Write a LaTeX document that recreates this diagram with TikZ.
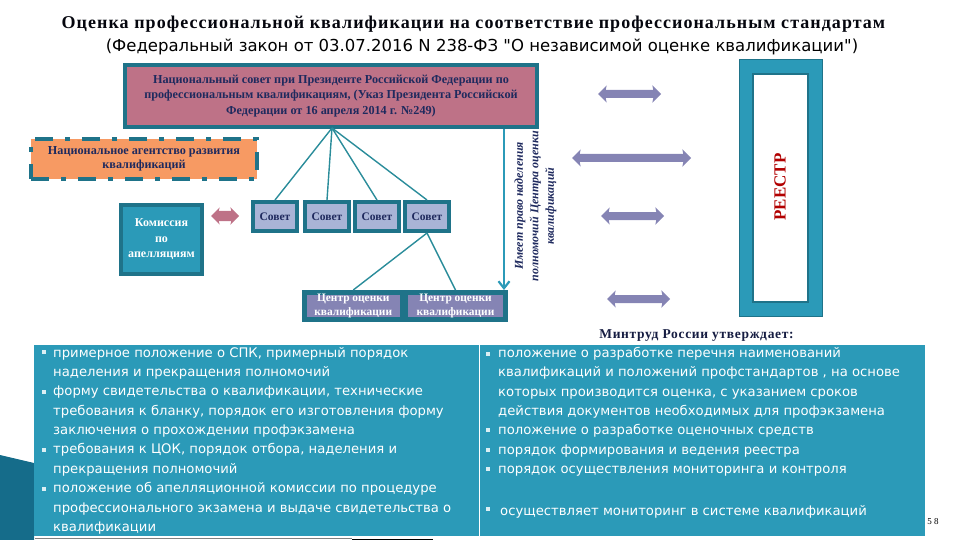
\documentclass[tikz,border=0pt]{standalone}
\usepackage{fontspec}
\setmainfont{Liberation Serif}
\newfontfamily\dv{DejaVu Sans}
\usetikzlibrary{shapes.arrows,arrows.meta}
\definecolor{tealD}{HTML}{1F7389}
\definecolor{tealM}{HTML}{2B9AB8}
\definecolor{tealC}{HTML}{156C8A}
\definecolor{rose}{HTML}{BE7287}
\definecolor{orangeB}{HTML}{F79A63}
\definecolor{lav}{HTML}{A9B4D6}
\definecolor{purp}{HTML}{8584B4}
\definecolor{navy}{HTML}{1F2A5E}
\definecolor{conn}{HTML}{2A8C9A}
\definecolor{pale}{HTML}{DCEFF4}
\tikzset{
 sovet/.style={draw=tealD,line width=4pt,fill=lav,minimum width=44pt,minimum height=29pt,inner sep=0pt,font=\bfseries\fontsize{11.5}{13}\selectfont,text=navy,anchor=north west},
 centre/.style={draw=tealD,line width=5pt,fill=purp,minimum height=27pt,inner sep=0pt,font=\bfseries\fontsize{11.4}{14}\selectfont,text=white,align=center,anchor=north west},
 dbl/.style={double arrow,double arrow head extend=4.7pt,double arrow head indent=1pt,inner xsep=0pt,inner ysep=3.8pt,fill=purp,draw=none},
 link/.style={draw=conn,line width=1.4pt},
 bodytxt/.style={anchor=north west,font=\dv\fontsize{13.2}{19.35}\selectfont,text=white,align=left,inner sep=0pt},
}
\begin{document}
\begin{tikzpicture}[x=1pt,y=-1pt]
\useasboundingbox (0,0) rectangle (960,540);
% corner chevron
\fill[tealC] (0,455) -- (34,463) -- (34,540) -- (0,540) -- cycle;
% title
\node[anchor=center,font=\bfseries\fontsize{18}{20}\selectfont\addfontfeature{LetterSpace=5.8},text=black!85!navy] (title) at (473.5,24) {Оценка профессиональной квалификации на соответствие профессиональным стандартам};
\node[anchor=center,font=\dv\fontsize{16.5}{19}\selectfont,text=black] (sub) at (482,47) {(Федеральный закон от 03.07.2016 N 238-ФЗ "О независимой оценке квалификации")};
% national council
\node[draw=tealD,line width=4pt,fill=rose,minimum width=412pt,minimum height=62pt,inner sep=0pt,align=center,font=\bfseries\fontsize{12.2}{15.5}\selectfont,text=navy] (council) at (331,96) {Национальный совет при Президенте Российской Федерации по\\профессиональным квалификациям, (Указ Президента Российской\\Федерации от 16 апреля 2014 г. №249)};
% agency
\node[draw=tealD,line width=3.5pt,dash pattern=on 18pt off 12pt on 5pt off 12pt,fill=orangeB,minimum width=226pt,minimum height=40pt,inner sep=0pt,align=center,font=\bfseries\fontsize{12.2}{14}\selectfont,text=navy] (agency) at (144,159) {Национальное агентство развития\\квалификаций};
% appeals
\node[draw=tealD,line width=4pt,fill=tealM,minimum width=81pt,minimum height=69pt,inner sep=0pt,align=center,font=\bfseries\fontsize{12}{15.5}\selectfont,text=white] (appeal) at (161.5,239.5) {Комиссия\\по\\апелляциям};
\node[double arrow,double arrow head extend=3.5pt,double arrow head indent=1pt,inner xsep=0pt,inner ysep=5pt,fill=rose,minimum height=28pt] (pinkarrow) at (225,216) {};
% sovets
\node[sovet] (s1) at (251,200) {Совет};
\node[sovet] (s2) at (303,200) {Совет};
\node[sovet] (s3) at (353,200) {Совет};
\node[sovet] (s4) at (403,200) {Совет};
% centres
\node[centre,minimum width=97.5pt] (c1) at (302,290) {Центр оценки\\квалификации};
\node[centre,minimum width=100pt] (c2) at (403,290) {Центр оценки\\квалификации};
% connectors
\coordinate (hub) at (332,128);
\draw[link] (hub) -- (s1.north);
\draw[link] (hub) -- (s2.north);
\draw[link] (hub) -- (s3.north);
\draw[link] (hub) -- (s4.north);
\draw[link] (s4.south) -- (c1.north);
\draw[link] (s4.south) -- (c2.north);
\coordinate (rt) at (504,129);
\coordinate (rb) at (504,290);
\draw[draw=tealM,line width=2.2pt,-{Straight Barb[length=7pt,width=11pt]}] (rt) -- (rb);
% rotated note
\node[rotate=90,align=center,font=\bfseries\itshape\fontsize{12}{15.5}\selectfont,text=navy] (note) at (535.5,206) {Имеет право наделения\\полномочий Центра оценки\\квалификаций};
% arrows
\node[dbl,minimum height=63pt] (a1) at (629.5,94) {};
\node[dbl,minimum height=119pt] (a2) at (631.5,158) {};
\node[dbl,minimum height=63pt] (a3) at (632.5,216) {};
\node[dbl,minimum height=63pt] (a4) at (638.5,299) {};
% registry
\node[draw=tealD,line width=1pt,fill=tealM,minimum width=83pt,minimum height=257pt,inner sep=0pt] (regO) at (781,188) {};
\node[draw=tealD,line width=2.5pt,fill=white,minimum width=55pt,minimum height=228pt,inner sep=0pt] (regI) at (780.5,188) {};
\node[rotate=90,font=\bfseries\fontsize{17}{19}\selectfont,text=red!70!black] (reg) at (780,187) {РЕЕСТР};
% Mintrud
\node[font=\bfseries\fontsize{13.5}{15}\selectfont\addfontfeature{LetterSpace=5},text=navy!70!black] (mt) at (696.5,336) {Минтруд России утверждает:};
% bottom strip
\draw[gray,line width=1pt] (35,538) -- (352,538);
\fill[black] (352,538.5) rectangle (433,540);
% bottom panel
\fill[tealM] (34,345) rectangle (925,536);
\draw[white,line width=0.8pt] (479.5,345) -- (479.5,536);
\node[bodytxt] (ltext) at (53,347) {примерное положение о СПК, примерный порядок\\наделения и прекращения полномочий\\форму свидетельства о квалификации, технические\\требования к бланку, порядок его изготовления форму\\заключения о прохождении профэкзамена\\требования к ЦОК, порядок отбора, наделения и\\прекращения полномочий\\положение об апелляционной комиссии по процедуре\\профессионального экзамена и выдаче свидетельства о\\квалификации};
\node[bodytxt] (rtext) at (498,347) {положение о разработке перечня наименований\\квалификаций и положений профстандартов , на основе\\которых производится оценка, с указанием сроков\\действия документов необходимых для профэкзамена\\положение о разработке оценочных средств\\порядок формирования и ведения реестра\\порядок осуществления мониторинга и контроля};
\node[bodytxt] (rlast) at (500,505) {осуществляет мониторинг в системе квалификаций};
\foreach \y in {352,392,450,489}{\fill[pale] (42,\y-2) rectangle (46,\y+2);}
\foreach \y in {354,430,450,469,509}{\fill[pale] (486,\y-2) rectangle (490,\y+2);}
\node[font=\fontsize{9}{10}\selectfont,anchor=center] (pg) at (933,522) {5 8};
\end{tikzpicture}
\end{document}
